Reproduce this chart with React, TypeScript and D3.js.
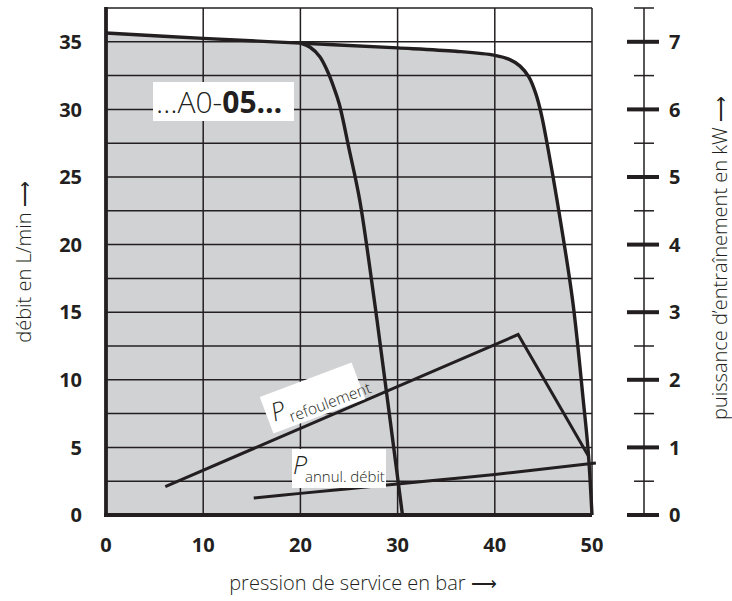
import React from "react";
import * as d3 from "d3";

// ---- data ----
const pressureTicks = [0, 10, 20, 30, 40, 50];
const flowTicks = [0, 5, 10, 15, 20, 25, 30, 35];
const flowGrid = [2.5, 5, 7.5, 10, 12.5, 15, 17.5, 20, 22.5, 25, 27.5, 30, 32.5, 35];
const powerTicks = [0, 1, 2, 3, 4, 5, 6, 7];
const powerMinor = [0.5, 1.5, 2.5, 3.5, 4.5, 5.5, 6.5, 7.5];

// outer envelope (bar, L/min)
const envelopeP = [0, 10, 20, 30, 36, 40, 41.5, 42.6, 43.5, 44.2, 44.8, 45.5, 46.4, 48, 49.1, 49.6, 50];
const envelopeQ = [35.65, 35.25, 34.9, 34.55, 34.3, 34.0, 33.7, 33.2, 32.4, 31.2, 29.6, 27.0, 23.3, 15.9, 8.5, 4.8, 0];

// inner curve (bar, L/min)
const innerP = [20, 21, 22, 22.8, 23.4, 24.0, 25.0, 26.1, 27.6, 29.0, 30.5];
const innerQ = [34.9, 34.6, 33.9, 32.8, 31.7, 30.4, 27.1, 23.3, 15.9, 8.3, 0];

// P refoulement (bar, kW)
const refoulementP = [6.1, 42.4, 49.6];
const refoulementKW = [0.42, 2.67, 0.88];

// P annul. débit (bar, kW)
const annulP = [15.2, 20, 25, 30, 35, 40, 45, 50.4];
const annulKW = [0.25, 0.32, 0.39, 0.46, 0.53, 0.6, 0.68, 0.77];

const FONT = "'Open Sans', 'Noto Sans', sans-serif";
const ARROW_FONT = "'DejaVu Sans', sans-serif";
const INK = "#231f20";

export default function App() {
  const x = d3.scaleLinear().domain([0, 50]).range([106, 592]);
  const y = d3.scaleLinear().domain([0, 37.5]).range([515, 8]);
  const yP = d3.scaleLinear().domain([0, 7.5]).range([515, 8]);

  const env = envelopeP.map((p, i) => [p, envelopeQ[i]] as [number, number]);
  const inner = innerP.map((p, i) => [p, innerQ[i]] as [number, number]);
  const refo = refoulementP.map((p, i) => [p, refoulementKW[i]] as [number, number]);
  const annul = annulP.map((p, i) => [p, annulKW[i]] as [number, number]);

  const curve = d3
    .line<[number, number]>()
    .x((d) => x(d[0]))
    .y((d) => y(d[1]))
    .curve(d3.curveCatmullRom.alpha(0.5));
  const area = d3
    .area<[number, number]>()
    .x((d) => x(d[0]))
    .y0(y(0))
    .y1((d) => y(d[1]))
    .curve(d3.curveCatmullRom.alpha(0.5));
  const powerLine = d3
    .line<[number, number]>()
    .x((d) => x(d[0]))
    .y((d) => yP(d[1]));
  const powerCurve = d3
    .line<[number, number]>()
    .x((d) => x(d[0]))
    .y((d) => yP(d[1]))
    .curve(d3.curveCatmullRom.alpha(0.5));

  const xr = x.range();
  const yr = y.range();

  return (
    <svg width={732} height={601} style={{ position: "absolute", left: 0, top: 0 }} fontFamily={FONT}>
      <rect width={732} height={601} fill="#fff" />
      {/* filled area */}
      <path d={area(env) || ""} fill="#d1d2d4" />
      {/* grid */}
      {pressureTicks.slice(1, -1).map((t) => (
        <line key={"vx" + t} x1={x(t)} x2={x(t)} y1={yr[1]} y2={yr[0]} stroke={INK} strokeWidth={1.5} />
      ))}
      {flowGrid.map((t) => (
        <line key={"hy" + t} x1={xr[0]} x2={xr[1]} y1={y(t)} y2={y(t)} stroke={INK} strokeWidth={1.5} />
      ))}
      {/* frame */}
      <line x1={xr[0]} x2={xr[1]} y1={yr[1]} y2={yr[1]} stroke={INK} strokeWidth={1.5} />
      <line x1={xr[1]} x2={xr[1]} y1={yr[1]} y2={yr[0]} stroke={INK} strokeWidth={1.5} />
      <line x1={xr[0]} x2={xr[0]} y1={yr[1] - 1} y2={yr[0] + 2} stroke={INK} strokeWidth={3.8} />
      <line x1={xr[0] - 2} x2={xr[1]} y1={yr[0]} y2={yr[0]} stroke={INK} strokeWidth={3.8} />

      {/* curves */}
      <path d={curve(env) || ""} fill="none" stroke={INK} strokeWidth={3.4} />
      <path d={curve(inner) || ""} fill="none" stroke={INK} strokeWidth={3.4} />
      <path d={powerLine(refo) || ""} fill="none" stroke={INK} strokeWidth={3} strokeLinejoin="miter" />
      <path d={powerCurve(annul) || ""} fill="none" stroke={INK} strokeWidth={3} />

      {/* model label */}
      <rect x={153} y={82} width={141} height={39} fill="#fff" />
      <text x={156} y={113} fontSize={30} fill={INK}>
        <tspan fontWeight={300}>…A0-</tspan>
        <tspan fontWeight={700}>05…</tspan>
      </text>

      {/* P refoulement label */}
      <g transform="translate(312.5,398) rotate(-20.5)">
        <rect x={-49} y={-19.5} width={98} height={39} fill="#fff" />
        <text x={-44} y={9} fontSize={25} fontWeight={300} fontStyle="italic" fill={INK}>P</text>
        <text x={-28} y={15.5} fontSize={15.5} fontWeight={300} fill={INK}>refoulement</text>
      </g>

      {/* P annul. débit label */}
      <rect x={292} y={449} width={94} height={39} fill="#fff" />
      <text x={293} y={473.5} fontSize={25} fontWeight={300} fontStyle="italic" fill={INK}>P</text>
      <text x={305} y={482} fontSize={15} fontWeight={300} fill={INK}>annul. débit</text>

      {/* left tick labels */}
      {flowTicks.map((t) => (
        <text key={"yl" + t} x={82} y={y(t)} dy="0.36em" textAnchor="end" fontSize={20} fontWeight={700} fill={INK}>
          {t}
        </text>
      ))}
      {/* bottom tick labels */}
      {pressureTicks.map((t) => (
        <text key={"xl" + t} x={x(t)} y={552} textAnchor="middle" fontSize={20} fontWeight={700} fill={INK}>
          {t}
        </text>
      ))}

      {/* right axis */}
      <line x1={644} x2={644} y1={yP(7.5)} y2={yP(0)} stroke={INK} strokeWidth={1.5} />
      {powerTicks.map((t) => (
        <g key={"pt" + t}>
          <line x1={627} x2={659} y1={yP(t)} y2={yP(t)} stroke={INK} strokeWidth={4} />
          <text x={669} y={yP(t)} dy="0.36em" fontSize={20} fontWeight={700} fill={INK}>
            {t}
          </text>
        </g>
      ))}
      {powerMinor.map((t) => (
        <line key={"pm" + t} x1={634} x2={654} y1={yP(t)} y2={yP(t)} stroke={INK} strokeWidth={1.5} />
      ))}

      {/* axis titles */}
      <text x={363} y={590} textAnchor="middle" fontSize={20} fontWeight={300} fill={INK}>
        pression de service en bar <tspan fontFamily={ARROW_FONT} fontSize={18}>⟶</tspan>
      </text>
      <text transform="translate(31,262) rotate(-90)" textAnchor="middle" fontSize={20} fontWeight={300} fill={INK}>
        débit en L/min <tspan fontFamily={ARROW_FONT} fontSize={18}>⟶</tspan>
      </text>
      <text transform="translate(727,258) rotate(-90)" textAnchor="middle" fontSize={20} fontWeight={300} fill={INK}>
        puissance d’entraînement en kW <tspan fontFamily={ARROW_FONT} fontSize={18}>⟶</tspan>
      </text>
    </svg>
  );
}
